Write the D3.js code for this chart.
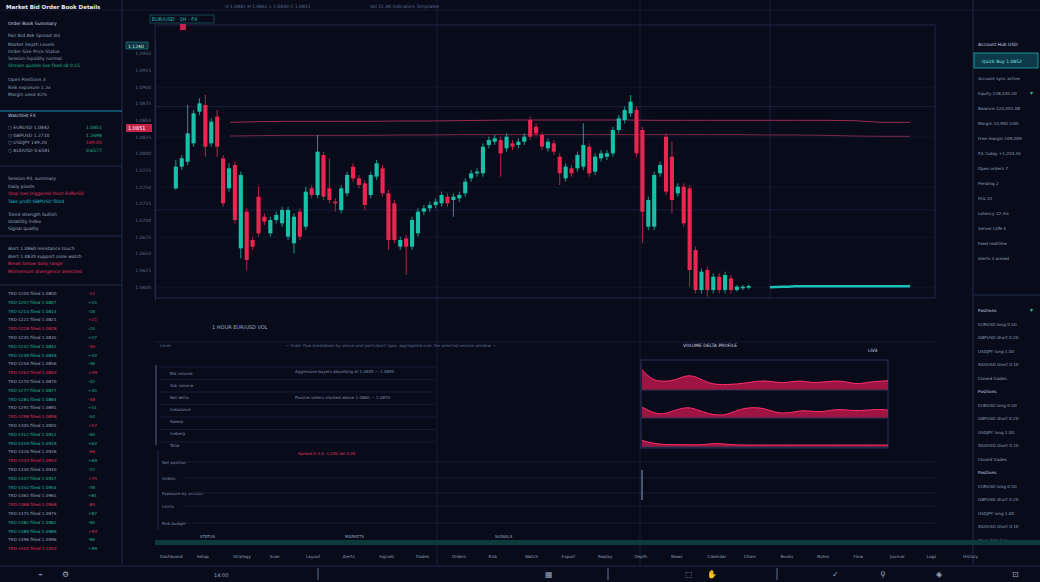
<!DOCTYPE html>
<html><head><meta charset="utf-8">
<script src="https://cdn.jsdelivr.net/npm/d3@7"></script>
<style>
body{margin:0;background:#080b1a;overflow:hidden;font-family:"DejaVu Sans",sans-serif}
text{font-family:"DejaVu Sans",sans-serif}
</style></head><body>
<svg id="c" width="1040" height="582"></svg>
<script>
// candle data (price units)
const opens  = [495,560,575,630,725,745,630,710,585,495,565,315,425,340,470,410,360,400,390,350,330,425,380,495,475,595,495,455,430,480,560,525,510,475,530,555,480,450,320,345,320,360,425,435,445,450,470,460,465,480,525,540,540,625,635,640,615,630,625,635,700,680,655,615,630,590,525,555,555,560,620,545,585,590,600,670,700,720,730,670,380,380,540,650,590,480,500,495,310,190,250,190,230,190,225,190,195,197];
const closes = [560,585,660,720,750,620,695,620,450,555,400,535,280,320,360,395,400,415,430,430,410,350,485,475,605,470,460,450,495,535,525,505,445,535,570,480,340,340,340,320,400,425,435,445,455,475,450,470,475,515,540,545,620,640,645,600,650,620,635,650,650,660,620,635,605,540,560,540,595,625,540,590,600,600,670,705,730,755,600,425,460,535,565,485,460,500,390,250,190,245,190,230,190,235,190,200,200,202];
const highs  = [580,595,745,730,765,775,705,730,595,570,575,545,435,350,500,420,410,425,440,440,420,435,500,505,655,605,585,465,505,545,570,535,520,545,580,565,490,460,350,355,410,435,445,455,465,485,480,480,485,525,550,555,630,650,655,650,660,640,645,660,710,690,665,645,640,600,570,565,605,690,630,600,610,610,680,715,740,775,740,680,470,545,575,660,635,510,510,505,320,255,260,240,240,245,235,205,205,207];
const lows   = [490,550,565,620,715,590,620,590,440,485,390,285,250,310,350,385,350,390,380,340,300,340,370,465,465,460,450,425,420,470,515,495,430,465,520,470,310,330,310,235,310,350,415,425,435,440,440,410,455,470,515,530,530,615,625,530,605,610,615,625,640,650,610,605,595,505,515,530,545,550,530,535,575,580,590,660,690,710,590,330,370,370,530,475,420,470,380,200,180,180,170,180,180,180,180,185,190,192];
const flatLine = [198,199,200,200,201,201,201,201,201,201,201,201,201,201,201,201,201,201,201,201,201,201,201,201];
const bandUpper = [693,695,696,696,696,696,697,697,698,699,700,700,700,700,700,699,699,699,699,699,699,699,698,693,693];
const bandLower = [652,653,654,654,654,654,655,655,656,656,656,656,656,656,656,656,656,656,656,655,655,654,652,651,651];
const priceTicks = [200,250,300,350,400,450,500,550,600,650,700,750,800,850,900];
const area1 = [55,25,20,20,30,40,30,15,10,10,12,15,20,22,18,15,20,22,15,18,20,22,15,12,18,20,22];
const area2 = [27,12,4,12,22,27,17,7,2,4,17,24,26,22,12,7,12,17,14,12,18,20,17,16,18,20,18];
const area3 = [14,6,2,1,1,1,0,3,5,2,0,0,0,0,0,0,0,0,0,0,0,0,0,0,0,0,0];
const leftRows = [
 ["Order Book Summary","#cfd8e6"],["  Pair  Bid  Ask  Spread  Vol","#8fa0b8"],["Market Depth Levels","#8fa0b8"],
 ["Order  Size  Price  Status","#8fa0b8"],["Session liquidity  normal","#8fa0b8"],["Stream quotes live  feed ok  0.15","#1fbf8f"],
 ["Open Positions 3","#8fa0b8"],["Risk exposure 1.2x","#8fa0b8"],["Margin used 42%","#8fa0b8"]];
const watchRows = [["EURUSD 1.0842","1.0851","#1fbf8f"],["GBPUSD 1.2710","1.2698","#1fbf8f"],["USDJPY 149.20","149.05","#e0305a"],["AUDUSD 0.6581","0.6577","#1fbf8f"]];
const bottomLabels = ["Dashboard","Setup","Strategy","Scan","Layout","Alerts","Signals","Trades","Orders","Risk","Watch","Export","Replay","Depth","News","Calendar","Chain","Books","Notes","Flow","Journal","Logs","History"];
const rightRows = ["Account sync active","Equity 128,430.20","Balance 124,001.08","Margin 14,992 USD","Free margin 109,009","P/L today +1,204.55","Open orders 7","Pending 2","Fills 31","Latency 12 ms","Server LDN-4","Feed realtime","Alerts 3 armed"];

const svg = d3.select("#c");
const W = 1040, H = 582;
svg.append("rect").attr("width",W).attr("height",H).attr("fill","#080b1a");

// ---- panels and separators
const line = (x1,y1,x2,y2,c,w=1,o=1) => svg.append("line").attr("x1",x1).attr("y1",y1).attr("x2",x2).attr("y2",y2).attr("stroke",c).attr("stroke-width",w).attr("opacity",o);
line(122,0,122,565,"#1c2c48");
line(973,0,973,565,"#1c2c48");
line(437,0,437,565,"#1a2440",1,0.8);
line(640,0,640,565,"#1a2440",1,0.8);
line(770,0,770,300,"#1a2440",1,0.8);
line(0,10,1040,10,"#141d35");

// ---- main chart
const m = {left:155,right:935,top:25,bottom:298};
const x = d3.scaleBand().domain(d3.range(opens.length + flatLine.length + 3)).range([172,912]).padding(0.3);
const y = d3.scaleLinear().domain([160,940]).range([300,40]);
svg.append("rect").attr("x",m.left).attr("y",m.top).attr("width",m.right-m.left).attr("height",m.bottom-m.top)
  .attr("fill","none").attr("stroke","#1c2846");
svg.append("g").attr("class","grid").attr("transform",`translate(${m.left},0)`)
  .call(d3.axisLeft(y).tickValues(priceTicks.filter((d,i)=>i%3==0)).tickSize(-(m.right-m.left)).tickFormat(""))
  .call(g=>g.select(".domain").remove())
  .selectAll("line").attr("stroke","#10182e");
svg.append("g").attr("transform",`translate(${m.left},0)`)
  .call(d3.axisLeft(y).tickValues(priceTicks).tickSize(0).tickPadding(4).tickFormat(d=>(1.05+d/20000).toFixed(4)))
  .call(g=>g.select(".domain").attr("stroke","#1c2846"))
  .selectAll("text").attr("fill","#5f6f89").attr("font-size",4.5);
line(m.left,y(740),m.right,y(740),"#222d52",1,0.7);
line(m.left,y(430),m.right,y(430),"#222d52",1,0.6);

const bandX = d3.scaleLinear().domain([0,bandUpper.length-1]).range([230,910]);
svg.append("path").datum(bandUpper).attr("fill","none").attr("stroke","#9a2a50").attr("stroke-width",1)
  .attr("d",d3.line().x((d,i)=>bandX(i)).y(d=>y(d)));
svg.append("path").datum(bandLower).attr("fill","none").attr("stroke","#7a2848").attr("stroke-width",1)
  .attr("d",d3.line().x((d,i)=>bandX(i)).y(d=>y(d)));

const cg = svg.append("g");
opens.forEach((o,i)=>{
  const c = closes[i], up = c >= o, col = up ? "#19c0a8" : "#e8264f";
  const cx = x(i) + x.bandwidth()/2;
  cg.append("line").attr("x1",cx).attr("x2",cx).attr("y1",y(highs[i])).attr("y2",y(lows[i])).attr("stroke",col).attr("stroke-width",0.8);
  cg.append("rect").attr("x",x(i)).attr("width",x.bandwidth()).attr("y",y(Math.max(o,c)))
    .attr("height",Math.max(1,Math.abs(y(o)-y(c)))).attr("fill",col);
});
const fx = d3.scaleLinear().domain([0,flatLine.length-1]).range([770,910]);
svg.append("path").datum(flatLine).attr("fill","none").attr("stroke","#19c0b8").attr("stroke-width",2.5)
  .attr("d",d3.line().x((d,i)=>fx(i)).y(d=>y(d)));

// price tag + header
svg.append("rect").attr("x",126).attr("y",124).attr("width",26).attr("height",8).attr("fill","#c4244a");
svg.append("text").attr("x",128).attr("y",130).attr("fill","#fff").attr("font-size",5).text("1.0851");
svg.append("rect").attr("x",126).attr("y",42).attr("width",22).attr("height",7).attr("fill","#0e3040").attr("stroke","#1fa0a0").attr("stroke-width",0.5);
svg.append("text").attr("x",128).attr("y",47.5).attr("fill","#cfe").attr("font-size",4.5).text("1.1240");
svg.append("rect").attr("x",150).attr("y",15).attr("width",64).attr("height",8).attr("fill","none").attr("stroke","#1f6f7a").attr("stroke-width",0.6);
svg.append("text").attr("x",152).attr("y",21).attr("fill","#2ac0c0").attr("font-size",5).text("EUR/USD · 1H · FX");
svg.append("text").attr("x",225).attr("y",8).attr("fill","#5f7090").attr("font-size",4.5).text("O 1.0842  H 1.0861  L 1.0830  C 1.0851");
svg.append("text").attr("x",370).attr("y",8).attr("fill","#5f7090").attr("font-size",4.5).text("Vol 12.4K   Indicators   Templates");
svg.append("rect").attr("x",180).attr("y",24).attr("width",6).attr("height",6).attr("fill","#c4244a");
svg.append("text").attr("x",212).attr("y",329).attr("fill","#a0adc2").attr("font-size",5).text("1 HOUR  EUR/USD  VOL");

// ---- left panel
svg.append("text").attr("x",6).attr("y",9).attr("fill","#e8eef8").attr("font-size",5.5).attr("font-weight","bold").text("Market Bid  Order Book Details");
leftRows.forEach((r,i)=>{
  const yy = [25,37,46,53,60,67,81,89,96][i];
  svg.append("text").attr("x",8).attr("y",yy).attr("fill",r[1]).attr("font-size",4.5).text(r[0]);
});
line(0,111,122,111,"#1f8fb0",1);
svg.append("text").attr("x",8).attr("y",117).attr("fill","#cfd8e6").attr("font-size",4.5).text("Watchlist  FX");
watchRows.forEach((r,i)=>{
  const yy = 129+i*7.5;
  svg.append("text").attr("x",8).attr("y",yy).attr("fill","#9aa8bf").attr("font-size",4.5).text("○ "+r[0]);
  svg.append("text").attr("x",86).attr("y",yy).attr("fill",r[2]).attr("font-size",4.5).text(r[1]);
});
line(0,166,122,166,"#1c2c48");
[["Session P/L summary","#9aa8bf"],["Daily pivots","#9aa8bf"],["Stop loss triggered short EURUSD","#e0305a"],["Take profit GBPUSD filled","#1fbfd0"]].forEach((r,i)=>
  svg.append("text").attr("x",8).attr("y",180+i*7.5).attr("fill",r[1]).attr("font-size",4.5).text(r[0]));
[["Trend strength  bullish","#9aa8bf"],["Volatility index","#9aa8bf"],["Signal quality","#9aa8bf"]].forEach((r,i)=>
  svg.append("text").attr("x",8).attr("y",216+i*7).attr("fill",r[1]).attr("font-size",4.5).text(r[0]));
line(0,236,122,236,"#1c2c48");
[["Alert 1.0860 resistance touch","#9aa8bf"],["Alert 1.0820 support zone watch","#9aa8bf"],["Break below daily range","#e0305a"],["Momentum divergence detected","#e0305a"]].forEach((r,i)=>
  svg.append("text").attr("x",8).attr("y",250+i*7.5).attr("fill",r[1]).attr("font-size",4.5).text(r[0]));
line(0,285,122,285,"#1c2c48");
for(let i=0;i<30;i++){
  const yy = 295+i*8.8;
  if (yy>560) break;
  const cols = ["#9aa8bf","#1fbf8f","#1fbfa8","#9aa8bf","#e0305a"];
  svg.append("text").attr("x",8).attr("y",yy).attr("fill",cols[i%5]).attr("font-size",4.2).text("TRD-"+(1200+i*7)+"  filled  "+(1.08+i*0.0007).toFixed(4));
  svg.append("text").attr("x",88).attr("y",yy).attr("fill",i%3?"#1fbf8f":"#e0305a").attr("font-size",4.2).text((i%2?"+":"-")+(12+i*3));
}

// ---- right panel
svg.append("text").attr("x",978).attr("y",46).attr("fill","#cfd8e6").attr("font-size",4.5).text("Account Hub  USD");
svg.append("rect").attr("x",974).attr("y",53).attr("width",64).attr("height",15).attr("fill","#0d3a48").attr("stroke","#1fb0b8").attr("stroke-width",0.8);
svg.append("text").attr("x",982).attr("y",63).attr("fill","#7fe8e8").attr("font-size",4.5).text("Quick Buy  1.0852");
rightRows.forEach((t,i)=>svg.append("text").attr("x",978).attr("y",80+i*15).attr("fill","#8fa0b8").attr("font-size",4.2).text(t));
line(973,295,1040,295,"#1c2c48");
for(let i=0;i<18;i++) svg.append("text").attr("x",978).attr("y",312+i*13.5).attr("fill",i%6==0?"#cfd8e6":"#8fa0b8").attr("font-size",4.2).text(["Positions","EURUSD long 0.50","GBPUSD short 0.20","USDJPY long 1.00","XAUUSD short 0.10","Closed trades"][i%6]);
svg.append("text").attr("x",1030).attr("y",95).attr("fill","#1fbf8f").attr("font-size",6).text("▾");
svg.append("text").attr("x",1030).attr("y",312).attr("fill","#1fbf8f").attr("font-size",6).text("▾");

// ---- lower middle
line(155,342,935,342,"#141d35");
svg.append("text").attr("x",160).attr("y",347).attr("fill","#5f7090").attr("font-size",4).text("Level");
svg.append("text").attr("x",285).attr("y",347).attr("fill","#5f7090").attr("font-size",4).text("— Order flow breakdown by venue and participant type, aggregated over the selected session window —");
svg.append("text").attr("x",683).attr("y",347).attr("fill","#cfd8e6").attr("font-size",4.5).text("VOLUME DELTA PROFILE");
svg.append("text").attr("x",868).attr("y",352).attr("fill","#cfd8e6").attr("font-size",4.5).text("LIVE");
line(156,365,156,445,"#3a4a66",1.5);
for(let i=0;i<7;i++){
  line(160,367+i*12.5,435,367+i*12.5,"#141d35");
  svg.append("text").attr("x",170).attr("y",375+i*12).attr("fill","#7f8ea8").attr("font-size",4).text(["Bid volume","Ask volume","Net delta","Imbalance","Sweep","Iceberg","Total"][i]);
}
svg.append("text").attr("x",295).attr("y",373).attr("fill","#7f8ea8").attr("font-size",4).text("Aggressive buyers absorbing at 1.0845 — 1.0850");
svg.append("text").attr("x",295).attr("y",399).attr("fill","#7f8ea8").attr("font-size",4).text("Passive sellers stacked above 1.0860 — 1.0870");
svg.append("text").attr("x",298).attr("y",455).attr("fill","#e0305a").attr("font-size",4).text("Spread 0.4  Δ -1,240  Vol 3.2K");
line(158,450,158,530,"#1c2c48");
[["Net position",464],["Orders",480],["Exposure by session",495],["Limits",508],["Risk budget",525]].forEach(r=>{
  svg.append("text").attr("x",162).attr("y",r[1]).attr("fill","#7f8ea8").attr("font-size",4).text(r[0]);
  line(185,r[1]-2,935,r[1]-2,"#141d35");
});
line(642,470,642,500,"#8fa0b8",1);

// area charts
const ax = d3.scaleLinear().domain([0,area1.length-1]).range([642,888]);
svg.append("rect").attr("x",641).attr("y",360).attr("width",247).attr("height",88).attr("fill","none").attr("stroke","#2a3556");
const bands = [[area1,390],[area2,418],[area3,447]];
const hy = d3.scaleLinear().domain([0,60]).range([0,20]);
bands.forEach(([d,base])=>{
  svg.append("path").datum(d)
    .attr("fill","#b8164a").attr("opacity",0.85)
    .attr("d",d3.area().curve(d3.curveBasis).x((v,i)=>ax(i)).y0(base).y1(v=>base-hy(v)-2));
  svg.append("path").datum(d).attr("fill","none").attr("stroke","#ff2d6a").attr("stroke-width",1)
    .attr("d",d3.line().curve(d3.curveBasis).x((v,i)=>ax(i)).y(v=>base-hy(v)-2));
  line(641,base,888,base,"#2a3556");
});

// teal bar and label row
svg.append("rect").attr("x",155).attr("y",540).attr("width",885).attr("height",5).attr("fill","#0e3a3c");
["STATUS","MARKETS","SIGNALS"].forEach((t,i)=>svg.append("text").attr("x",[200,345,495][i]).attr("y",538).attr("fill","#8fa0b8").attr("font-size",4).text(t));
bottomLabels.forEach((t,i)=>svg.append("text").attr("x",160+i*36.5).attr("y",558).attr("fill","#8fa0b8").attr("font-size",4.2).text(t));

// toolbar
line(0,566,1040,566,"#1c2c48");
const icons = [["⌁",38],["⚙",62],["14:00",214],["▦",545],["⬚",685],["✋",707],["✓",832],["⚲",880],["◈",936],["⊡",1012]];
icons.forEach(([g,xx])=>svg.append("text").attr("x",xx).attr("y",577).attr("fill","#9aa8bf").attr("font-size",g.length>1?5:8).text(g));
line(318,568,318,580,"#5f7090");
line(608,568,608,580,"#5f7090");
line(777,568,777,580,"#5f7090");
</script></body></html>
